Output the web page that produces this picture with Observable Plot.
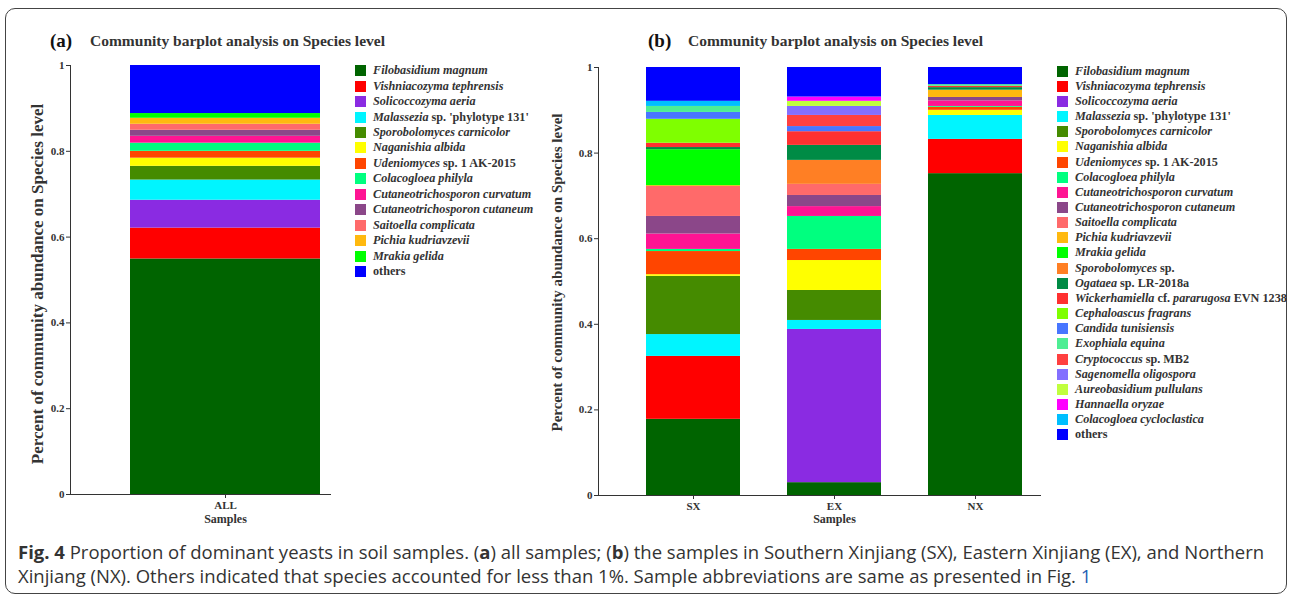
<!DOCTYPE html>
<html><head><meta charset="utf-8">
<script src="https://cdn.jsdelivr.net/npm/d3@7"></script>
<script src="https://cdn.jsdelivr.net/npm/@observablehq/plot@0.6"></script>
<style>
html,body{margin:0;padding:0;background:#fff;}
#page{position:relative;width:1292px;height:601px;overflow:hidden;font-family:"Liberation Serif",serif;}
#frame{position:absolute;left:5px;top:8px;width:1282px;height:586px;border:1px solid #444;border-radius:10px;box-sizing:border-box;}
.abs{position:absolute;}
.ptag{position:absolute;font-family:"Liberation Serif",serif;font-weight:bold;font-size:19px;line-height:19px;color:#111;white-space:nowrap;}
.ptitle{position:absolute;font-family:"Liberation Serif",serif;font-weight:bold;font-size:15.5px;line-height:16px;color:#333;white-space:nowrap;}
.legend{position:absolute;font-family:"Liberation Serif",serif;font-weight:bold;font-size:12.2px;color:#333;}
.row{display:flex;align-items:center;white-space:nowrap;}
.sw{width:11px;height:11px;margin-right:7px;flex:none;}
#caption{position:absolute;left:18px;top:540px;font-family:"Open Sans",sans-serif;font-size:18.5px;line-height:24px;color:#333;white-space:nowrap;}
#caption a{color:#1f5fb3;text-decoration:none;}
</style></head>
<body><div id="page">
<div id="frame"></div>
<div class="ptag" style="left:50px;top:31px;">(a)</div>
<div class="ptitle" style="left:90px;top:33px;">Community barplot analysis on Species level</div>
<div class="ptag" style="left:648px;top:31px;">(b)</div>
<div class="ptitle" style="left:688px;top:33px;">Community barplot analysis on Species level</div>
<div id="plotA" class="abs" style="left:0;top:0;"></div>
<div id="plotB" class="abs" style="left:540px;top:0;"></div>
<div id="legendA" class="legend" style="left:355px;top:63px;"></div>
<div id="legendB" class="legend" style="left:1057px;top:63.5px;"></div>
<div id="caption"><b>Fig. 4</b> Proportion of dominant yeasts in soil samples. (<b>a</b>) all samples; (<b>b</b>) the samples in Southern Xinjiang (SX), Eastern Xinjiang (EX), and Northern<br>Xinjiang (NX). Others indicated that species accounted for less than 1%. Sample abbreviations are same as presented in Fig. <a>1</a></div>
</div>
<script>
// ---------- Panel (a) data ----------
const samplesA = ["ALL"];
const speciesA = [
  "Filobasidium magnum","Vishniacozyma tephrensis","Solicoccozyma aeria",
  "Malassezia sp. 'phylotype 131'","Sporobolomyces carnicolor","Naganishia albida",
  "Udeniomyces sp. 1 AK-2015","Colacogloea philyla","Cutaneotrichosporon curvatum",
  "Cutaneotrichosporon cutaneum","Saitoella complicata","Pichia kudriavzevii",
  "Mrakia gelida","others"
];
const colorsA = ["#006400","#ff0000","#8a2be2","#00f5ff","#458b00","#ffff00","#ff4500",
  "#00ff7f","#ff1493","#8b4789","#ff6a6a","#ffb90f","#00ff00","#0000ff"];
const valuesALL = [0.549,0.072,0.065,0.047,0.032,0.019,0.016,0.019,0.016,0.014,0.014,0.014,0.011,0.112];

// ---------- Panel (b) data ----------
const samplesB = ["SX","EX","NX"];
const speciesB = [
  "Filobasidium magnum","Vishniacozyma tephrensis","Solicoccozyma aeria",
  "Malassezia sp. 'phylotype 131'","Sporobolomyces carnicolor","Naganishia albida",
  "Udeniomyces sp. 1 AK-2015","Colacogloea philyla","Cutaneotrichosporon curvatum",
  "Cutaneotrichosporon cutaneum","Saitoella complicata","Pichia kudriavzevii",
  "Mrakia gelida","Sporobolomyces sp.","Ogataea sp. LR-2018a",
  "Wickerhamiella cf. pararugosa EVN 1238","Cephaloascus fragrans","Candida tunisiensis",
  "Exophiala equina","Cryptococcus sp. MB2","Sagenomella oligospora",
  "Aureobasidium pullulans","Hannaella oryzae","Colacogloea cycloclastica","others"
];
const colorsB = ["#006400","#ff0000","#8a2be2","#00f5ff","#458b00","#ffff00","#ff4500",
  "#00ff7f","#ff1493","#8b4789","#ff6a6a","#ffb90f","#00ff00","#ff7f24","#008b45",
  "#ff3030","#7fff00","#4876ff","#4eee94","#ff4040","#836fff","#c0ff3e","#ff00ff",
  "#00bfff","#0000ff"];
const valuesSX = [0.178,0.147,0,0.051,0.136,0.004,0.054,0.005,0.036,0.041,0.070,0.002,0.084,0,0.005,0.010,0.056,0.016,0.014,0,0,0,0,0.012,0.079];
const valuesEX = [0.030,0,0.358,0.021,0.070,0.070,0.026,0.077,0.023,0.026,0.026,0,0,0.056,0.035,0.032,0,0.012,0,0.026,0.021,0.012,0.010,0,0.069];
const valuesNX = [0.752,0.080,0,0.056,0,0.012,0.007,0.002,0.013,0.008,0,0.017,0,0,0.006,0.003,0,0,0.004,0,0,0,0,0,0.040];

const yTicks = [0,0.2,0.4,0.6,0.8,1];
const yLabel = "Percent of community abundance on Species level";
const xLabel = "Samples";

// ---------- build rows ----------
function rows(sample, species, values) {
  return species.map((s,i)=>({sample, species:s, value:values[i]})).filter(d=>d.value>0);
}
const rowsA = rows("ALL", speciesA, valuesALL);
const rowsB = [].concat(rows("SX", speciesB, valuesSX), rows("EX", speciesB, valuesEX), rows("NX", speciesB, valuesNX));

const baseStyle = {fontFamily:"Liberation Serif, serif", fontWeight:"bold", fontSize:"11px", color:"#333", background:"transparent", overflow:"visible"};

const plotA = Plot.plot({
  width: 340, height: 530,
  marginLeft: 70, marginTop: 65, marginBottom: 36, marginRight: 10,
  style: baseStyle,
  x: {domain: samplesA, range: [130, 320], padding: 0, label: null, tickSize: 4, tickPadding: 3, line: true},
  y: {domain: [0,1], ticks: yTicks, tickFormat: d => String(d), tickSize: 4, tickPadding: 2, label: null, line: true},
  color: {domain: speciesA, range: colorsA},
  marks: [
    Plot.barY(rowsA, {x: "sample", y: "value", fill: "species", order: speciesA}),
    Plot.text([xLabel], {x: () => "ALL", frameAnchor: "bottom", dy: 25, lineAnchor: "middle", fontSize: 12, fill: "#333"}),
    Plot.text([yLabel], {frameAnchor: "left", rotate: -90, dx: -33, dy: 4, textAnchor: "middle", lineAnchor: "middle", fontSize: 17, fill: "#333"})
  ]
});
document.getElementById("plotA").appendChild(plotA);

const plotB = Plot.plot({
  width: 510, height: 530,
  marginLeft: 58, marginTop: 67, marginBottom: 35, marginRight: 10,
  style: baseStyle,
  x: {domain: samplesB, range: [105, 483], paddingInner: 0.33, paddingOuter: 0, label: null, tickSize: 4, tickPadding: 3, line: true},
  y: {domain: [0,1], ticks: yTicks, tickFormat: d => String(d), tickSize: 4, tickPadding: 2, label: null, line: true},
  color: {domain: speciesB, range: colorsB},
  marks: [
    Plot.barY(rowsB, {x: "sample", y: "value", fill: "species", order: speciesB}),
    Plot.text([xLabel], {x: () => "EX", frameAnchor: "bottom", dy: 24, lineAnchor: "middle", fontSize: 12, fill: "#333"}),
    Plot.text([yLabel], {frameAnchor: "left", rotate: -90, dx: -41, dy: -9, textAnchor: "middle", lineAnchor: "middle", fontSize: 15, fill: "#333"})
  ]
});
document.getElementById("plotB").appendChild(plotB);

// ---------- legends ----------
function labelHTML(name) {
  if (name === "others") return "others";
  const toks = name.split(" ");
  let mode = "italic", out = [];
  for (let i = 0; i < toks.length; i++) {
    const t = toks[i];
    if (t === "sp.") { mode = "normal"; out.push(t); continue; }
    if (t === "cf.") { out.push(t); if (i+1 < toks.length) { out.push("<i>"+toks[i+1]+"</i>"); i++; } mode = "normal"; continue; }
    out.push(mode === "italic" ? "<i>"+t+"</i>" : t);
  }
  return out.join(" ");
}
function legend(el, species, colors, rowH) {
  species.forEach((s,i) => {
    const r = document.createElement("div");
    r.className = "row";
    r.style.height = rowH + "px";
    r.innerHTML = '<span class="sw" style="background:'+colors[i]+'"></span><span>'+labelHTML(s)+'</span>';
    el.appendChild(r);
  });
}
legend(document.getElementById("legendA"), speciesA, colorsA, 15.46);
legend(document.getElementById("legendB"), speciesB, colorsB, 15.17);
</script>
</body></html>
